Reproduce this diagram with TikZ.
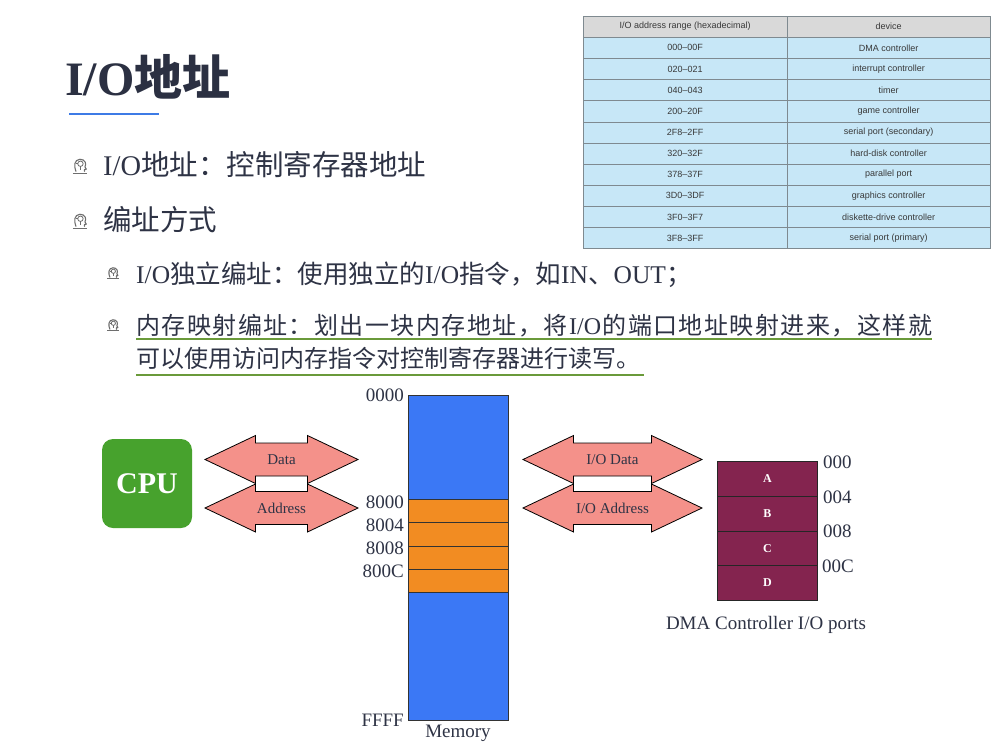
\documentclass[tikz,border=0pt]{standalone}
\usepackage{fontspec}
\setmainfont{Liberation Serif}
\newfontfamily\cjk{Noto Sans CJK SC}
\newfontfamily\tabfont{Liberation Sans}
\newcommand\zh[1]{{\cjk #1}}
% spread a run of characters so that a box of fixed width is justified
\def\spreadchars#1{\ifx#1\relax\else#1\hskip 0pt plus 1fil\expandafter\spreadchars\fi}

\definecolor{titlecol}{HTML}{2B3042}
\definecolor{bodycol}{HTML}{2E3345}
\definecolor{rulecol}{HTML}{3D7BE6}
\definecolor{linkgreen}{HTML}{6A9A3A}
\definecolor{memblue}{HTML}{3B78F5}
\definecolor{memorange}{HTML}{F28C22}
\definecolor{cpugreen}{HTML}{47A22D}
\definecolor{busfill}{HTML}{F4918A}
\definecolor{dmared}{HTML}{84244F}
\definecolor{cellblue}{HTML}{C7E7F7}
\definecolor{cellhead}{HTML}{D9D9D9}
\definecolor{cellline}{HTML}{7F8A90}
\definecolor{iconcol}{HTML}{6E6E6E}

\tikzset{
  txt/.style={inner sep=0pt, anchor=base west, text=bodycol},
  lbl/.style={inner sep=0pt, text=bodycol, font=\fontsize{19}{19}\selectfont},
  buslabel/.style={inner sep=0pt, text=bodycol, font=\fontsize{15}{15}\selectfont},
  busshape/.style={fill=busfill, draw=black, line width=0.8pt, line join=miter},
  memcell/.style={draw=black!80, line width=0.9pt, minimum width=100pt, anchor=north west, inner sep=0pt},
  portcell/.style={draw=black!85, line width=0.8pt, fill=dmared, minimum width=100pt, minimum height=34.75pt,
    anchor=north west, inner sep=0pt, text=white, font=\fontsize{12}{12}\selectfont\bfseries},
  cell/.style={draw=cellline, line width=0.6pt, minimum width=203.5pt, minimum height=21.13pt, anchor=north west,
    inner sep=0pt, text=black!78, font=\tabfont\fontsize{9}{9}\selectfont},
  bulletmark/.pic={
    \draw[iconcol, line width=1.1pt, line cap=round, line join=round]
      (-4.5,6) .. controls (-7,0) and (-6.5,-7) .. (0,-7.5)
      .. controls (6,-7.5) and (7.5,-2) .. (5.5,1) -- (7,3.5) -- (5,4) -- (5,6);
    \draw[iconcol, line width=1pt] (-8,8) -- (8,8);
    \draw[iconcol, line width=0.8pt] (0.5,-2.5) circle (3);
    \draw[iconcol, line width=0.8pt] (0.5,0.5) -- (0.5,4.5) (-2.5,-2.5) -- (-4,-2.5);
  }
}

% a two-headed bus arrow centred at (cx,cy), half length #4, labelled #5
\newcommand\busarrow[5]{%
  \begin{scope}[shift={(#2,#3)}]
    \filldraw[busshape] (-#4,0) -- ({-#4+50.5},-24) -- ({-#4+50.5},-16.5) -- ({#4-50.5},-16.5)
      -- ({#4-50.5},-24) -- (#4,0) -- ({#4-50.5},24) -- ({#4-50.5},16.5)
      -- ({-#4+50.5},16.5) -- ({-#4+50.5},24) -- cycle;
    \node[buslabel] (#1) at (0,0) {#5};
  \end{scope}}

\begin{document}
\begin{tikzpicture}[x=1pt, y=-1pt]
\useasboundingbox[fill=white] (0,0) rectangle (998,745);

% ---------- heading ----------
\node[txt, text=titlecol, font=\fontsize{48}{48}\selectfont\bfseries] (title) at (65,95) {I/O\zh{地址}};
\draw[rulecol, line width=2pt] (69,114) -- (159,114);

% ---------- bullets ----------
\pic[scale=0.9] at (80,166) {bulletmark};
\node[txt, font=\fontsize{28.5}{28.5}\selectfont] (b1) at (103,175) {I/O\zh{地址：控制寄存器地址}};
\pic[scale=0.9] at (80,221) {bulletmark};
\node[txt, font=\fontsize{28.5}{28.5}\selectfont] (b2) at (103,230) {\zh{编址方式}};

\pic[scale=0.7] at (113,273) {bulletmark};
\node[txt, font=\fontsize{25.5}{25.5}\selectfont] (s1) at (136,283)
  {I/O\zh{独立编址：使用独立的}I/O\zh{指令，如}IN\zh{、}OUT\zh{；}};
\pic[scale=0.7] at (113,325) {bulletmark};
\node[txt, font=\fontsize{24}{24}\selectfont] (s2a) at (136,334)
  {\makebox[796pt][s]{\cjk\spreadchars 内存映射编址：划出一块内存地址，将\relax
   \rmfamily I/O\hskip 0pt plus 1fil\cjk\spreadchars 的端口地址映射进来，这样就\relax\unskip}};
\node[txt, font=\fontsize{24}{24}\selectfont] (s2b) at (136,367) {\zh{可以使用访问内存指令对控制寄存器进行读写。}};
\draw[linkgreen, line width=1.8pt] ([yshift=-5pt]s2a.base west) -- ([yshift=-5pt]s2a.base east);
\draw[linkgreen, line width=1.8pt] ([yshift=-8pt]s2b.base west) -- ([yshift=-8pt,xshift=4pt]s2b.base east);

% ---------- port table ----------
\node[cell, fill=cellhead] (h1) at (583,15.5) {I/O address range (hexadecimal)};
\node[cell, fill=cellhead] (h2) at (786.5,15.5) {device};
\foreach \a/\d [count=\i] in {000–00F/DMA controller, 020–021/interrupt controller, 040–043/timer,
    200–20F/game controller, 2F8–2FF/serial port (secondary), 320–32F/hard-disk controller,
    378–37F/parallel port, 3D0–3DF/graphics controller, 3F0–3F7/diskette-drive controller,
    3F8–3FF/serial port (primary)} {
  \node[cell, fill=cellblue] (ra\i) at (583,{37+(\i-1)*21.13}) {\a};
  \node[cell, fill=cellblue] (rd\i) at (786.5,{37+(\i-1)*21.13}) {\d};
}

% ---------- CPU ----------
\node[fill=cpugreen, rounded corners=11pt, minimum width=90pt, minimum height=89pt, inner sep=0pt,
  text=white, font=\fontsize{30}{30}\selectfont\bfseries] (cpu) at (147,483.5) {CPU};

% ---------- buses ----------
\busarrow{data}{281.5}{459.5}{76.5}{Data}
\busarrow{addr}{281.5}{508}{76.5}{Address}
\busarrow{iodata}{612.5}{459.5}{89.5}{I/O Data}
\busarrow{ioaddr}{612.5}{508}{89.5}{I/O Address}

% ---------- memory ----------
\node[memcell, fill=memblue, minimum height=325pt] (mem) at (408,395) {};
\foreach \k in {0,1,2,3}
  \node[memcell, fill=memorange, minimum height=23.25pt] (slot\k) at (408,{499+\k*23.25}) {};
\node[lbl, anchor=east] (m0) at (404,395) {0000};
\node[lbl, anchor=east] (m1) at (404,502) {8000};
\node[lbl, anchor=east] (m2) at (404,525) {8004};
\node[lbl, anchor=east] (m3) at (404,548) {8008};
\node[lbl, anchor=east] (m4) at (404,571) {800C};
\node[lbl, anchor=east] (m5) at (404,720) {FFFF};
\node[lbl] (memname) at (458,733) {Memory};

% ---------- DMA controller ports ----------
\node[portcell] (pa) at (717,461) {A};
\node[portcell] (pb) at (717,495.75) {B};
\node[portcell] (pc) at (717,530.5) {C};
\node[portcell] (pd) at (717,565.25) {D};
\node[lbl, anchor=west] (p0) at (823,462) {000};
\node[lbl, anchor=west] (p1) at (823,497) {004};
\node[lbl, anchor=west] (p2) at (823,531) {008};
\node[lbl, anchor=west] (p3) at (822,566) {00C};
\node[lbl] (dmaname) at (766,625) {DMA Controller I/O ports};
\end{tikzpicture}
\end{document}
